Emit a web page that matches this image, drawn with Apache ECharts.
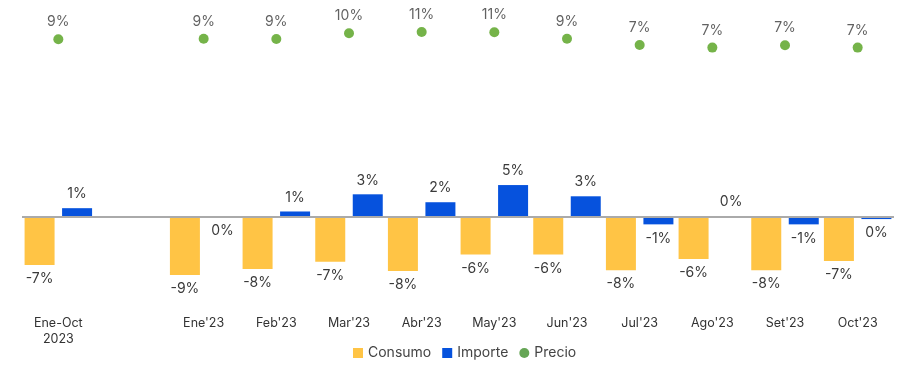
<!DOCTYPE html>
<html><head><meta charset="utf-8">
<script src="https://cdn.jsdelivr.net/npm/echarts@6/dist/echarts.min.js"></script>
<style>html,body{margin:0;padding:0;background:#fff}#c{width:907px;height:367px}</style>
</head><body><div id="c"></div>
<script>
const categories = ['Ene-Oct\n2023', '', "Ene'23", "Feb'23", "Mar'23", "Abr'23", "May'23", "Jun'23", "Jul'23", "Ago'23", "Set'23", "Oct'23"];
const consumo = [-7.3, null, -8.8, -7.9, -6.8, -8.2, -5.7, -5.7, -8.1, -6.4, -8.1, -6.7];
const importe = [1.3, null, -0.05, 0.8, 3.4, 2.2, 4.8, 3.1, -1.15, 0.1, -1.15, -0.35];
const precio = [8.8, null, 8.9, 8.85, 10.3, 10.6, 10.55, 8.9, 7.35, 6.7, 7.3, 6.7];

const FONT = 'Inter, "Noto Sans", sans-serif';
const pct = v => Math.round(v) + '%';
const barData = arr => arr.map(v => v === null ? null : {
  value: v,
  label: { position: v < 0 ? 'bottom' : 'top' }
});

const chart = echarts.init(document.getElementById('c'));
chart.setOption({
  animation: false,
  textStyle: { fontFamily: FONT },
  grid: { left: 22, right: 13, top: 10, bottom: 67 },
  legend: {
    bottom: 2, left: 348, itemWidth: 10, itemHeight: 10, itemGap: 11,
    textStyle: { fontSize: 14, color: '#444', fontFamily: FONT },
    data: [
      { name: 'Consumo', icon: 'rect' },
      { name: 'Importe', icon: 'rect' },
      { name: 'Precio', icon: 'circle', itemStyle: { color: '#3E8E2B' } }
    ]
  },
  xAxis: {
    type: 'category', data: categories,
    axisLine: { show: false }, axisTick: { show: false },
    axisLabel: { margin: 15, fontSize: 12.5, color: '#333', lineHeight: 16, interval: 0 }
  },
  yAxis: [
    { type: 'value', min: -12.6, max: 31.3, show: false, splitLine: { show: false } },
    { type: 'value', min: -56.4, max: 16.1, show: false, splitLine: { show: false } }
  ],
  series: [
    {
      name: 'Consumo', type: 'bar', data: barData(consumo), barWidth: 30, barGap: '25%',
      itemStyle: { color: '#FFC445' },
      label: { show: true, formatter: p => pct(p.value), fontSize: 14, color: '#3a3a3a', distance: 7 },
      markLine: {
        silent: true, symbol: 'none', label: { show: false },
        lineStyle: { color: '#aaaaaa', width: 2, type: 'solid' },
        data: [{ yAxis: 0 }]
      }
    },
    {
      name: 'Importe', type: 'bar', data: barData(importe), barWidth: 30,
      itemStyle: { color: '#0652DD' },
      label: { show: true, formatter: p => pct(p.value), fontSize: 14, color: '#3a3a3a', distance: 7 }
    },
    {
      name: 'Precio', type: 'scatter', yAxisIndex: 1, data: precio, symbolSize: 10,
      itemStyle: { color: '#52A01C' },
      label: { show: true, position: 'top', formatter: p => pct(p.value), fontSize: 14, color: '#3a3a3a', distance: 5 }
    }
  ]
});
</script></body></html>
